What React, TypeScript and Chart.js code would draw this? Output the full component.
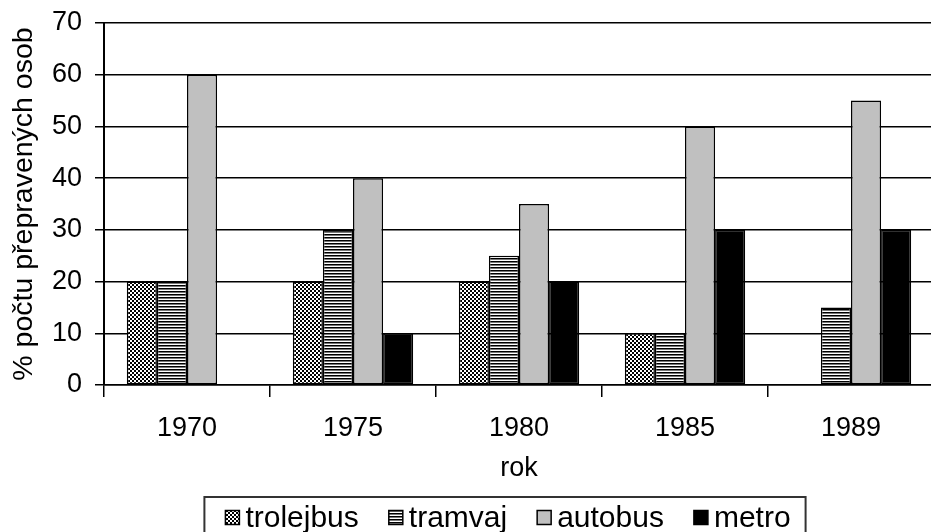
import React, { useEffect, useRef } from 'react';
import { Chart, registerables } from 'chart.js';

Chart.register(...registerables);

const categories = ['1970', '1975', '1980', '1985', '1989'];
const trolejbus = [20, 20, 20, 10, null];
const tramvaj = [20, 30, 25, 10, 15];
const autobus = [60, 40, 35, 50, 55];
const metro = [null, 10, 20, 30, 30];
const seriesLabels = ['trolejbus', 'tramvaj', 'autobus', 'metro'];
const yMin = 0;
const yMax = 70;
const yStep = 10;
const xTitle = 'rok';
const yTitle = '% počtu přepravených osob';

const FONT = '"Liberation Sans", Arial, sans-serif';

function checker(ctx: CanvasRenderingContext2D) {
  const c = document.createElement('canvas');
  c.width = 4;
  c.height = 4;
  const g = c.getContext('2d')!;
  g.fillStyle = '#fff';
  g.fillRect(0, 0, 4, 4);
  g.fillStyle = '#000';
  g.fillRect(0, 0, 2, 2);
  g.fillRect(2, 2, 2, 2);
  return ctx.createPattern(c, 'repeat')!;
}

function stripes(ctx: CanvasRenderingContext2D) {
  const c = document.createElement('canvas');
  c.width = 4;
  c.height = 3;
  const g = c.getContext('2d')!;
  g.fillStyle = '#fff';
  g.fillRect(0, 0, 4, 3);
  g.fillStyle = '#000';
  g.fillRect(0, 0, 4, 1);
  g.fillStyle = '#777';
  g.fillRect(0, 1, 4, 1);
  return ctx.createPattern(c, 'repeat')!;
}

const boxLegend = {
  id: 'boxLegend',
  afterDraw(chart: any) {
    const ctx: CanvasRenderingContext2D = chart.ctx;
    const xs = chart.scales.x;
    ctx.save();
    ctx.font = `30px ${FONT}`;
    const sw = 14;
    const gapText = 6;
    const gapItem = 30;
    const padL = 21;
    const padR = 15;
    const items = chart.data.datasets.map((ds: any) => ({
      label: ds.label,
      fill: ds.backgroundColor,
      w: sw + gapText + ctx.measureText(ds.label).width,
    }));
    const total = items.reduce((a: number, i: any) => a + i.w, 0) + gapItem * (items.length - 1);
    const boxW = total + padL + padR;
    const cx = (chart.chartArea.left + chart.chartArea.right) / 2 - 14;
    const boxX = cx - boxW / 2;
    const boxTop = xs.bottom + 12;
    ctx.strokeStyle = '#333';
    ctx.lineWidth = 2;
    ctx.strokeRect(boxX, boxTop, boxW, 60);
    let x = boxX + padL;
    const midY = boxTop + 20.5;
    for (const it of items) {
      ctx.fillStyle = it.fill;
      ctx.fillRect(x, midY - sw / 2, sw, sw);
      ctx.strokeStyle = '#000';
      ctx.lineWidth = 1.5;
      ctx.strokeRect(x, midY - sw / 2, sw, sw);
      ctx.fillStyle = '#000';
      ctx.textBaseline = 'middle';
      ctx.textAlign = 'left';
      ctx.fillText(it.label, x + sw + gapText, midY + 1);
      x += it.w + gapItem;
    }
    ctx.restore();
  },
};

export default function App() {
  const ref = useRef<HTMLCanvasElement>(null);
  useEffect(() => {
    const canvas = ref.current!;
    const ctx = canvas.getContext('2d')!;
    const fills = [checker(ctx), stripes(ctx), '#c0c0c0', '#000000'];
    const values = [trolejbus, tramvaj, autobus, metro];
    const chart = new Chart(canvas, {
      type: 'bar',
      data: {
        labels: categories,
        datasets: seriesLabels.map((label, i) => ({
          label,
          data: values[i],
          backgroundColor: fills[i] as any,
          borderColor: '#000',
          borderWidth: 1.5,
          borderSkipped: false,
          categoryPercentage: 0.725,
          barPercentage: 1,
        })),
      },
      options: {
        responsive: false,
        animation: false,
        devicePixelRatio: 1,
        layout: { padding: { left: 0, right: 11, top: 23, bottom: 60 } },
        plugins: {
          legend: { display: false },
          tooltip: { enabled: false },
        },
        scales: {
          x: {
            offset: true,
            grid: {
              offset: true,
              drawOnChartArea: false,
              drawTicks: true,
              tickLength: 12,
              color: '#000',
              lineWidth: 1.5,
            },
            border: { display: true, color: '#000', width: 1.5 },
            ticks: { color: '#000', font: { family: FONT, size: 27 }, padding: 15 },
            title: {
              display: true,
              text: xTitle,
              color: '#000',
              font: { family: FONT, size: 27 },
              padding: { top: 0, bottom: 0 },
            },
            afterFit: (s: any) => {
              s.height = 100;
              s.paddingLeft = 0;
              s.paddingRight = 0;
            },
          },
          y: {
            min: yMin,
            max: yMax,
            ticks: { stepSize: yStep, color: '#000', font: { family: FONT, size: 27 }, padding: 13 },
            grid: { color: '#000', lineWidth: 1.5, drawTicks: true, tickLength: 9 },
            border: { display: true, color: '#000', width: 2 },
            title: {
              display: true,
              text: yTitle,
              color: '#000',
              font: { family: FONT, size: 28.5 },
              padding: { top: 7, bottom: 0 },
            },
            afterFit: (s: any) => {
              s.width = 104;
              s.paddingTop = 0;
              s.paddingBottom = 0;
            },
          },
        },
      },
      plugins: [boxLegend],
    });
    return () => chart.destroy();
  }, []);
  return (
    <div style={{ position: 'fixed', left: 0, top: 0, width: 931, height: 532, overflow: 'hidden', background: '#fff' }}>
      <canvas ref={ref} width={945} height={545} style={{ display: 'block', width: 945, height: 545 }} />
    </div>
  );
}
